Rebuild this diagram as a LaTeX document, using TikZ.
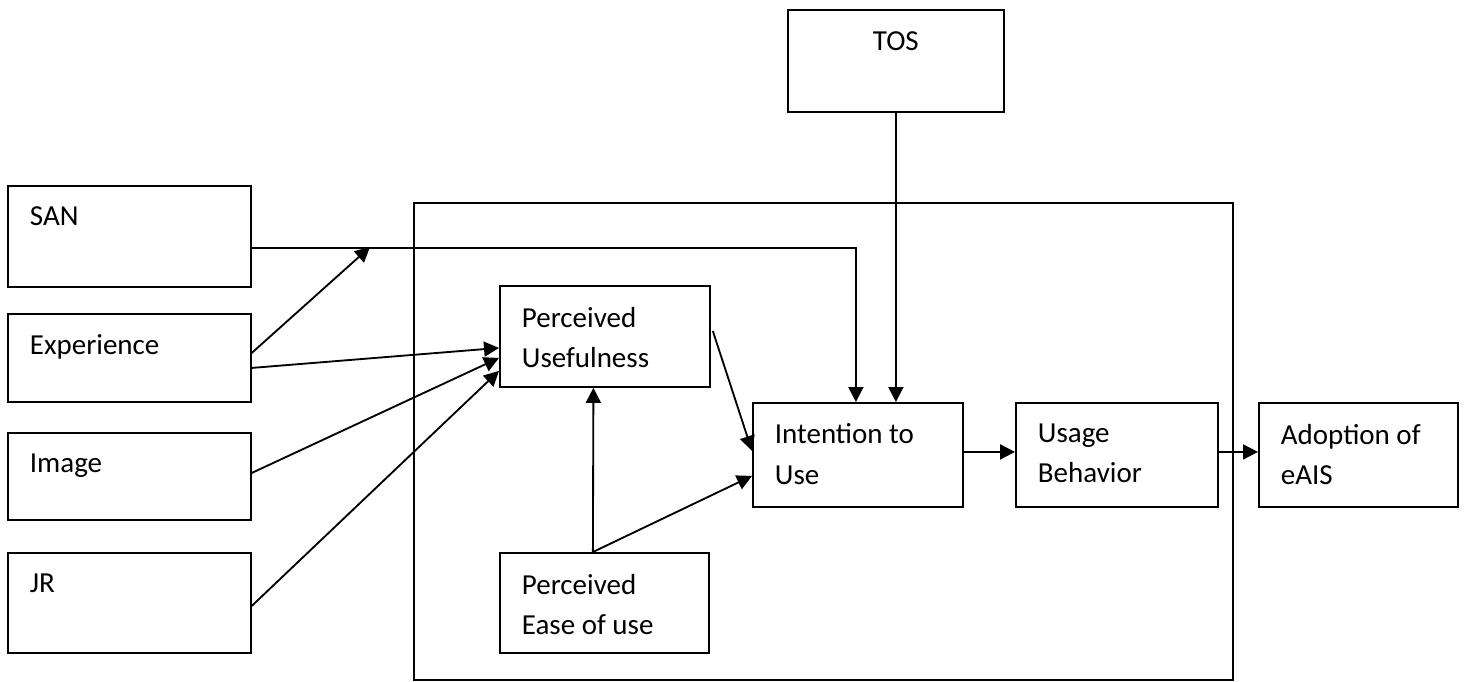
\documentclass[tikz,border=0pt]{standalone}
\usepackage{fontspec}
\setmainfont{Carlito}
\usetikzlibrary{arrows.meta, positioning}

\begin{document}
\begin{tikzpicture}[
    x=0.02cm, y=-0.02cm,
    line width=1.05pt,
    box/.style={draw, rectangle, anchor=north west, inner sep=0pt},
    txt/.style={inner sep=0pt, align=left, font=\fontsize{16.5}{22.8}\selectfont},
    tag/.style={txt, anchor=north west, xshift=0.44cm, yshift=-0.42cm},
    tagc/.style={txt, anchor=north, yshift=-0.44cm},
    arr/.style={-{Triangle[length=0.3cm, width=0.3cm]}}
]
    \useasboundingbox (0,0) rectangle (1468,681);

    % Nodes
    \node[box, minimum width=16.38cm, minimum height=9.54cm] (core) at (413,202) {};
    \node[box, minimum width=4.32cm, minimum height=2.04cm, label={[tagc]north:TOS}] (tos) at (787,9) {};
    \node[box, minimum width=4.86cm, minimum height=2.02cm, label={[tag]north west:SAN}] (san) at (7,185) {};
    \node[box, minimum width=4.86cm, minimum height=1.76cm, label={[tag]north west:Experience}] (exp) at (7,313) {};
    \node[box, minimum width=4.86cm, minimum height=1.74cm, label={[tag]north west:Image}] (img) at (7,432) {};
    \node[box, minimum width=4.86cm, minimum height=2.00cm, label={[tag]north west:JR}] (jr) at (7,552) {};
    \node[box, minimum width=4.20cm, minimum height=2.02cm, label={[tag]north west:Perceived\\Usefulness}] (pu) at (499,285) {};
    \node[box, minimum width=4.18cm, minimum height=2.00cm, label={[tag]north west:Perceived\\Ease of use}] (peu) at (499,552) {};
    \node[box, minimum width=4.20cm, minimum height=2.08cm, label={[tag]north west:Intention to\\Use}] (itu) at (752,402) {};
    \node[box, minimum width=4.04cm, minimum height=2.08cm, label={[tag]north west:Usage\\Behavior}] (ub) at (1015,402) {};
    \node[box, minimum width=3.98cm, minimum height=2.08cm, label={[tag]north west:Adoption of\\eAIS}] (ado) at (1258,402) {};
    \coordinate (mod) at (370,247);

    % Edges
    \draw[arr] ([yshift=-0.23cm]san.east) -| ([xshift=-0.04cm]itu.north);
    \draw[arr] (tos.south) -- (tos.south |- itu.north);
    \draw[arr] ([yshift=0.1cm]exp.east) -- (mod);
    \draw[arr] ([yshift=-0.2cm]exp.east) -- ([yshift=-0.23cm]pu.west);
    \draw[arr] ([yshift=0.07cm]img.east) -- ([yshift=-0.43cm]pu.west);
    \draw[arr] ([yshift=-0.06cm]jr.east) -- ([yshift=-0.69cm]pu.west);
    \draw[arr] ([xshift=0.04cm, yshift=0.11cm]pu.east) -- ([yshift=0.08cm]itu.west);
    \draw[arr] ([xshift=-0.23cm]peu.north) -- ([xshift=-0.23cm]pu.south);
    \draw[arr] ([xshift=-0.23cm]peu.north) -- ([yshift=-0.42cm]itu.west);
    \draw[arr] ([yshift=0.06cm]itu.east) -- ([yshift=0.06cm]ub.west);
    \draw[arr] ([yshift=0.06cm]ub.east) -- ([yshift=0.06cm]ado.west);
\end{tikzpicture}
\end{document}
